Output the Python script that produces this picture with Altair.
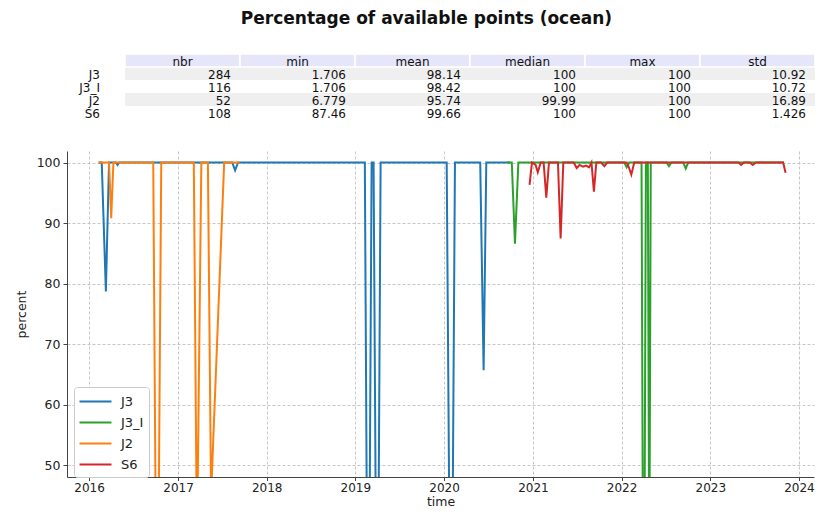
import altair as alt
import pandas as pd

# ---------------- data ----------------
J3_dates = ["2016-02-10", "2016-02-22", "2016-03-10", "2016-03-23", "2016-04-20", "2016-04-27",
            "2016-05-04", "2017-08-12", "2017-08-24", "2017-09-05", "2019-02-09", "2019-02-23",
            "2019-03-09", "2019-03-17", "2019-04-01", "2019-04-15", "2020-01-12", "2020-01-30",
            "2020-02-15", "2020-05-29", "2020-06-12", "2020-06-23", "2020-09-28"]
J3_vals = [100, 100, 78.7, 100, 100, 99.6,
           100, 100, 98.7, 100, 100, 1.706,
           100, 100, 3.0, 100, 100, 2.0,
           100, 100, 65.7, 100, 100]

J3I_dates = ["2020-09-16", "2020-10-06", "2020-10-19", "2020-11-02", "2022-01-12", "2022-01-22",
             "2022-02-01", "2022-03-24", "2022-04-02", "2022-04-11", "2022-04-19", "2022-04-25",
             "2022-05-01", "2022-07-05", "2022-07-15", "2022-07-25", "2022-09-12", "2022-09-22",
             "2022-10-02", "2023-11-01"]
J3I_vals = [100, 100, 86.6, 100, 100, 99.2,
            100, 100, 1.706, 100, 100, 30.0,
            100, 100, 99.4, 100, 100, 99.0,
            100, 100]

J2_dates = ["2016-02-08", "2016-03-23", "2016-04-01", "2016-04-10", "2016-09-21", "2016-10-07",
            "2016-10-24", "2017-03-07", "2017-03-20", "2017-04-07", "2017-05-04", "2017-05-17",
            "2017-07-10", "2017-09-12"]
J2_vals = [100, 100, 90.8, 100, 100, 6.779,
           100, 100, 36.0, 100, 100, 45.0,
           100, 100]

S6_dates = ["2020-12-18", "2020-12-28", "2021-01-12", "2021-01-21", "2021-02-02", "2021-02-14",
            "2021-02-25", "2021-03-08", "2021-04-14", "2021-04-25", "2021-05-06", "2021-06-18",
            "2021-06-30", "2021-07-12", "2021-07-26", "2021-08-08", "2021-08-20", "2021-08-30",
            "2021-09-09", "2021-09-19", "2021-10-09", "2021-10-22", "2021-11-03", "2022-01-22",
            "2022-01-30", "2022-02-10", "2022-02-22", "2023-04-27", "2023-05-08", "2023-05-20",
            "2023-06-13", "2023-06-25", "2023-07-07", "2023-10-28", "2023-11-07"]
S6_vals = [96.3, 100, 99.6, 98.4, 100, 100,
           94.2, 100, 100, 87.46, 100, 100,
           99.1, 99.6, 99.3, 99.5, 99.2, 100,
           95.2, 100, 100, 99.4, 100, 100,
           99.3, 98.0, 100, 100, 99.6, 100,
           100, 99.6, 100, 100, 98.3]

series_names = ["J3", "J3_I", "J2", "S6"]
series_colors = ["#1f77b4", "#2ca02c", "#ff7f0e", "#d62728"]

# table
table_rows = ["J3", "J3_I", "J2", "S6"]
table_cols = ["nbr", "min", "mean", "median", "max", "std"]
col_nbr = ["284", "116", "52", "108"]
col_min = ["1.706", "1.706", "6.779", "87.46"]
col_mean = ["98.14", "98.42", "95.74", "99.66"]
col_median = ["100", "100", "99.99", "100"]
col_max = ["100", "100", "100", "100"]
col_std = ["10.92", "10.72", "16.89", "1.426"]
row_shades = ["g", "w", "g", "w"]

year_ticks = list(range(2016, 2025))
y_ticks = [50, 60, 70, 80, 90, 100]

FONT = "DejaVu Sans"

# ---------------- line chart ----------------
frames = []
for name, d, v in [("J3", J3_dates, J3_vals), ("J3_I", J3I_dates, J3I_vals),
                   ("J2", J2_dates, J2_vals), ("S6", S6_dates, S6_vals)]:
    frames.append(pd.DataFrame({"time": pd.to_datetime(d), "percent": v, "series": name}))
df = pd.concat(frames, ignore_index=True)

x_enc = alt.X(
    "time:T",
    scale=alt.Scale(domain=[alt.DateTime(year=2015, month=10, date=2),
                            alt.DateTime(year=2024, month=3, date=3)], nice=False),
    axis=alt.Axis(values=[alt.DateTime(year=y, month=1, date=1) for y in year_ticks],
                  format="%Y", title="time", labelFontSize=12, titleFontSize=12.5,
                  tickSize=3.5, labelPadding=1.5, titlePadding=2, labelFlush=False),
)
y_enc = alt.Y(
    "percent:Q",
    scale=alt.Scale(domain=[48.1, 101.9], nice=False, zero=False),
    axis=alt.Axis(values=y_ticks, title="percent", labelFontSize=12.5, titleFontSize=12.5,
                  tickSize=4, labelPadding=3, titlePadding=8),
)
color_enc = alt.Color(
    "series:N",
    scale=alt.Scale(domain=series_names, range=series_colors),
    legend=alt.Legend(title=None, orient="none", legendX=7, legendY=236,
                      symbolType="M-2,0H2", symbolSize=256, symbolStrokeWidth=2.2,
                      symbolOffset=7, labelOffset=16,
                      labelFontSize=13, labelFont=FONT, labelColor="#222222",
                      rowPadding=4, padding=5,
                      strokeColor="#cccccc", fillColor="#ffffff", cornerRadius=3),
)

layers = []
for s in series_names:
    layers.append(
        alt.Chart(df).transform_filter(alt.datum.series == s)
        .mark_line(clip=True, strokeWidth=2)
        .encode(x=x_enc, y=y_enc, color=color_enc)
    )
lines = alt.layer(*layers).properties(width=747, height=326)

# ---------------- table ----------------
row_domain = ["header"] + table_rows
cells = []
all_cols = [col_nbr, col_min, col_mean, col_median, col_max, col_std]
for ci, c in enumerate(table_cols):
    for ri, r in enumerate(table_rows):
        cells.append({"col": c, "row": r, "text": all_cols[ci][ri]})
cells_df = pd.DataFrame(cells)
header_df = pd.DataFrame({"col": table_cols, "row": "header", "text": table_cols})
stripe_df = pd.DataFrame({"row": table_rows, "shade": row_shades})

ycell = alt.Y("row:N", scale=alt.Scale(domain=row_domain, paddingInner=0, paddingOuter=0), axis=None)
xcol = alt.Scale(domain=table_cols, paddingInner=0, paddingOuter=0)
shade_scale = alt.Scale(domain=["g", "w"], range=["#efefef", "#ffffff"])

val_stripes = alt.Chart(stripe_df).mark_rect().encode(
    y=ycell, color=alt.Color("shade:N", scale=shade_scale, legend=None))
val_header_bg = alt.Chart(header_df).mark_rect(fill="#e6e6fa", stroke="#ffffff", strokeWidth=1.5).encode(
    x=alt.X("col:N", scale=xcol, axis=None), y=ycell)
val_header_txt = alt.Chart(header_df).mark_text(font=FONT, fontSize=12, color="#111111",
                                                baseline="middle", dy=1).encode(
    x=alt.X("col:N", scale=xcol, axis=None), y=ycell, text="text:N")
val_txt = alt.Chart(cells_df).mark_text(font=FONT, fontSize=12, color="#111111", align="right",
                                         baseline="middle", dx=-9, dy=1).encode(
    x=alt.X("col:N", scale=xcol, axis=None, bandPosition=1), y=ycell, text="text:N")
values_chart = alt.layer(val_stripes, val_header_bg, val_header_txt, val_txt).properties(width=690, height=65)

label_df = pd.DataFrame({"col": "label", "row": table_rows, "text": table_rows})
lab_txt = alt.Chart(label_df).mark_text(font=FONT, fontSize=12, color="#111111", align="right",
                                         baseline="middle", dx=4.5, dy=1).encode(
    x=alt.X("col:N", axis=None, scale=alt.Scale(paddingInner=0, paddingOuter=0)),
    y=ycell, text="text:N")
labels_chart = lab_txt.properties(width=57, height=65)

table = alt.hconcat(labels_chart, values_chart, spacing=0).resolve_scale(color="independent", x="independent")

chart = alt.vconcat(table, lines, spacing=31).properties(
    title=alt.TitleParams("Percentage of available points (ocean)", fontSize=17, font=FONT,
                          fontWeight="bold", anchor="middle", offset=25, dx=11, color="#111111"),
    padding={"left": 7, "top": 2, "right": 0, "bottom": 0},
).resolve_scale(color="independent").configure_view(
    stroke=None
).configure_axis(
    labelFont=FONT, titleFont=FONT, labelColor="#222222", titleColor="#222222",
    domainColor="#444444", tickColor="#444444", gridColor="#b8b8b8", gridDash=[3, 2],
    gridWidth=0.8, titleFontWeight="normal",
).configure_concat(spacing=0)

chart.save("out.html", embed_options={"renderer": "svg", "actions": False})
